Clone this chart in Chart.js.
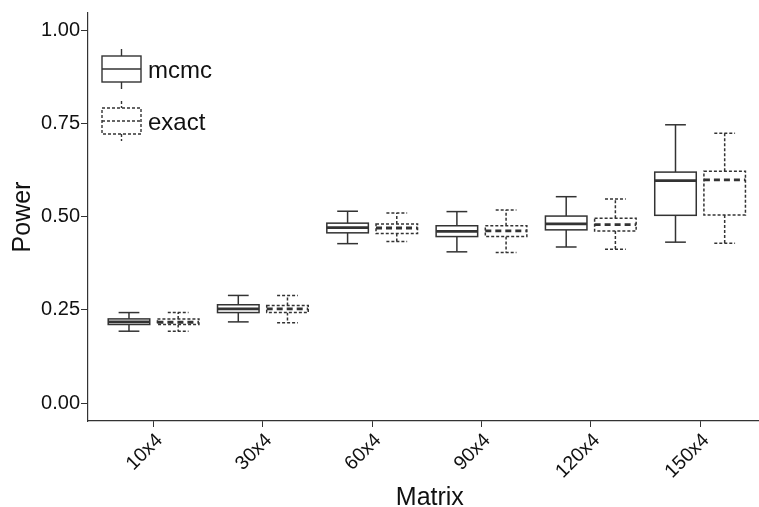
<!DOCTYPE html>
<html>
<head>
<meta charset="utf-8">
<script src="https://cdn.jsdelivr.net/npm/chart.js@4.4.1/dist/chart.umd.min.js"></script>
<style>
  html, body { margin: 0; padding: 0; background: #fff; }
  #wrap { width: 759px; height: 507px; position: relative; }
</style>
</head>
<body>
<div id="wrap"><canvas id="grafico"></canvas></div>
<script>
// Dados
const categorias = ['10x4', '30x4', '60x4', '90x4', '120x4', '150x4'];
const ticksY = [0, 0.25, 0.5, 0.75, 1.0];

const mcmcMin = [0.193, 0.218, 0.428, 0.406, 0.419, 0.432];
const mcmcQ1 = [0.211, 0.243, 0.457, 0.447, 0.465, 0.504];
const mcmcMediana = [0.218, 0.253, 0.471, 0.461, 0.481, 0.597];
const mcmcQ3 = [0.226, 0.264, 0.483, 0.476, 0.502, 0.620];
const mcmcMax = [0.243, 0.289, 0.515, 0.514, 0.554, 0.747];

const exactMin = [0.193, 0.216, 0.434, 0.404, 0.413, 0.429];
const exactQ1 = [0.211, 0.243, 0.455, 0.447, 0.462, 0.505];
const exactMediana = [0.217, 0.253, 0.470, 0.462, 0.479, 0.599];
const exactQ3 = [0.226, 0.262, 0.481, 0.476, 0.496, 0.622];
const exactMax = [0.243, 0.289, 0.510, 0.518, 0.548, 0.724];

const FONTE = "'Liberation Sans', Arial, sans-serif";
const COR = '#333333';

const series = [
    { nome: 'mcmc', desloc: -0.225, traco: [], tracoMed: [],
      min: mcmcMin, q1: mcmcQ1, med: mcmcMediana, q3: mcmcQ3, max: mcmcMax },
    { nome: 'exact', desloc: 0.225, traco: [3, 2], tracoMed: [6, 4],
      min: exactMin, q1: exactQ1, med: exactMediana, q3: exactQ3, max: exactMax }
];

const MEIA_CAIXA = 0.19;
const MEIO_BIGODE = 0.095;

const linha = (ctx, x1, y1, x2, y2) => {
    ctx.beginPath();
    ctx.moveTo(x1, y1);
    ctx.lineTo(x2, y2);
    ctx.stroke();
};

const pluginBoxplot = {
    id: 'boxplot',
    afterDatasetsDraw(chart) {
        const { ctx, scales: { x, y } } = chart;
        ctx.save();
        ctx.strokeStyle = COR;
        series.forEach(s => {
            s.med.forEach((_, i) => {
                const c = i + s.desloc;
                const xc = x.getPixelForValue(c);
                const xe = x.getPixelForValue(c - MEIA_CAIXA);
                const xd = x.getPixelForValue(c + MEIA_CAIXA);
                const be = x.getPixelForValue(c - MEIO_BIGODE);
                const bd = x.getPixelForValue(c + MEIO_BIGODE);
                const yMin = y.getPixelForValue(s.min[i]);
                const yQ1 = y.getPixelForValue(s.q1[i]);
                const yMed = y.getPixelForValue(s.med[i]);
                const yQ3 = y.getPixelForValue(s.q3[i]);
                const yMax = y.getPixelForValue(s.max[i]);

                ctx.lineWidth = 1.5;
                ctx.setLineDash(s.traco);
                // bigodes
                linha(ctx, xc, yQ3, xc, yMax);
                linha(ctx, xc, yQ1, xc, yMin);
                linha(ctx, be, yMax, bd, yMax);
                linha(ctx, be, yMin, bd, yMin);
                // caixa
                ctx.fillStyle = '#fff';
                ctx.fillRect(xe, yQ3, xd - xe, yQ1 - yQ3);
                ctx.strokeRect(xe, yQ3, xd - xe, yQ1 - yQ3);
                // mediana
                ctx.lineWidth = 2.8;
                ctx.setLineDash(s.tracoMed);
                linha(ctx, xe, yMed, xd, yMed);
            });
        });
        ctx.restore();
    },
    afterDraw(chart) {
        const { ctx, chartArea, scales: { x } } = chart;
        ctx.save();
        ctx.strokeStyle = COR;
        ctx.fillStyle = '#111';

        // titulo do eixo x, centrado no painel (que continua além da borda)
        ctx.font = `25px ${FONTE}`;
        ctx.textAlign = 'center';
        ctx.textBaseline = 'alphabetic';
        ctx.fillText('Matrix', x.getPixelForValue((categorias.length - 1) / 2) + 3, chart.height - 2);

        // legenda dentro da área do gráfico
        ctx.font = `24px ${FONTE}`;
        ctx.textAlign = 'left';
        const esq = chartArea.left + 14;
        const larg = 39;
        series.forEach((s, k) => {
            const topo = chartArea.top + 43 + k * 52;
            const alt = 26;
            const xc = esq + larg / 2;
            ctx.lineWidth = 1.4;
            ctx.setLineDash(s.traco);
            linha(ctx, xc, topo - 7, xc, topo);
            linha(ctx, xc, topo + alt, xc, topo + alt + 7);
            ctx.strokeRect(esq, topo, larg, alt);
            linha(ctx, esq, topo + alt / 2, esq + larg, topo + alt / 2);
            ctx.setLineDash([]);
            ctx.fillText(s.nome, esq + larg + 7, topo + alt / 2 + 9);
        });
        ctx.restore();
    }
};

const grafico = new Chart(document.getElementById('grafico'), {
    type: 'scatter',
    data: { datasets: [] },
    plugins: [pluginBoxplot],
    options: {
        responsive: true,
        maintainAspectRatio: false,
        animation: false,
        devicePixelRatio: 1,
        layout: { padding: { top: 12, right: 0, left: 0, bottom: 0 } },
        plugins: {
            legend: { display: false },
            tooltip: { enabled: false }
        },
        scales: {
            x: {
                type: 'linear',
                min: -0.6,
                max: 5.539,
                afterBuildTicks: (eixo) => {
                    eixo.ticks = categorias.map((_, i) => ({ value: i }));
                },
                afterFit: (eixo) => { eixo.height = 86; },
                grid: { drawOnChartArea: false, drawTicks: true, tickLength: 6, color: COR, lineWidth: 1 },
                border: { display: true, color: COR, width: 1.2 },
                ticks: {
                    autoSkip: false,
                    minRotation: 45,
                    maxRotation: 45,
                    padding: 2,
                    labelOffset: 6,
                    color: '#111',
                    font: { family: FONTE, size: 19.5 },
                    callback: (valor) => categorias[valor]
                },
                title: { display: false }
            },
            y: {
                min: -0.048,
                max: 1.047,
                afterBuildTicks: (eixo) => {
                    eixo.ticks = ticksY.map(v => ({ value: v }));
                },
                afterFit: (eixo) => { eixo.width = 88; },
                grid: { drawOnChartArea: false, drawTicks: true, tickLength: 7, color: COR, lineWidth: 1 },
                border: { display: true, color: COR, width: 1.2 },
                ticks: {
                    padding: 1,
                    color: '#111',
                    font: { family: FONTE, size: 20 },
                    callback: (valor) => valor.toFixed(2)
                },
                title: {
                    display: true,
                    text: 'Power',
                    color: '#111',
                    font: { family: FONTE, size: 25, lineHeight: 1 },
                    padding: { top: 11, bottom: 0 }
                }
            }
        }
    }
});
</script>
</body>
</html>
